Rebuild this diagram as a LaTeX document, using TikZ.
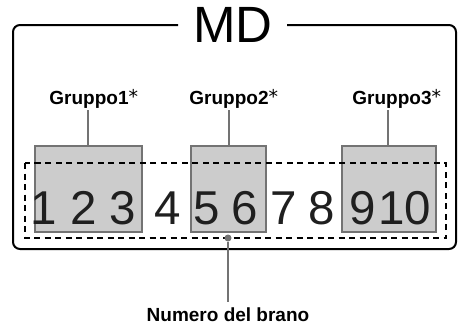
\documentclass[tikz,border=0pt]{standalone}
\usepackage{fontspec}
\setmainfont{Liberation Sans}
\newfontfamily\symfont{DejaVu Sans}
\newcommand{\grpast}{\rlap{\raisebox{0.5pt}{\symfont\fontseries{m}\fontsize{19}{19}\selectfont *}}}
\begin{document}
\begin{tikzpicture}[x=1pt,y=-1pt,
  grp/.style={draw=black!55, line width=1.6pt, fill=black!20},
  grplbl/.style={font=\bfseries\fontsize{19}{19}\selectfont, inner sep=0pt},
  conn/.style={draw=black!55, line width=1.7pt},
  digit/.style={font=\fontsize{47.5}{47.5}\selectfont, inner sep=0pt, anchor=base, text=black!88},
  outer/.style={draw=black, line width=2pt, rounded corners=7pt}]
\useasboundingbox (0,0) rectangle (461,324);
% outer frame with gap for title
\draw[outer] (178,25) -- (13,25) -- (13,249) -- (456,249) -- (456,25) -- (287,25);
\node[font=\fontsize{51}{51}\selectfont, inner sep=0pt, anchor=base] (title) at (233,42) {MD};
% group boxes
\path[grp] (35,146) rectangle (142,232);
\path[grp] (191,146) rectangle (266,232);
\path[grp] (342,146) rectangle (436,232);
\coordinate (b1) at (88,146);
\coordinate (b2) at (229,146);
\coordinate (b3) at (388,146);
% labels
\node[grplbl, anchor=base] (g1) at (89,104) {Gruppo1\grpast};
\node[grplbl, anchor=base] (g2) at (229,104) {Gruppo2\grpast};
\node[grplbl, anchor=base] (g3) at (392,104) {Gruppo3\grpast};
\coordinate (g1s) at (88,110);
\coordinate (g2s) at (229,110);
\coordinate (g3s) at (388,110);
\draw[conn] (g1s) -- (b1);
\draw[conn] (g2s) -- (b2);
\draw[conn] (g3s) -- (b3);
% dashed track area
\draw[black, line width=1.2pt, dash pattern=on 6pt off 4.5pt] (25,163) rectangle (446,238);
% digits
\node[digit] (n1) at (44,224) {1};
\node[digit] (n2) at (84,224) {2};
\node[digit] (n3) at (123,224) {3};
\node[digit] (n4) at (168,224) {4};
\node[digit] (n5) at (207,224) {5};
\node[digit] (n6) at (245,224) {6};
\node[digit] (n7) at (284,224) {7};
\node[digit] (n8) at (322,224) {8};
\node[digit] (n9) at (363,224) {9};
\node[digit] (n10) at (405,224) {10};
% pointer
\node[circle, fill=black!55, inner sep=0pt, minimum size=7pt] (dot) at (228,238) {};
\node[grplbl, anchor=base] (nb) at (228,321) {Numero del brano};
\coordinate (nbt) at (228,302);
\draw[conn] (dot) -- (nbt);
\end{tikzpicture}
\end{document}
